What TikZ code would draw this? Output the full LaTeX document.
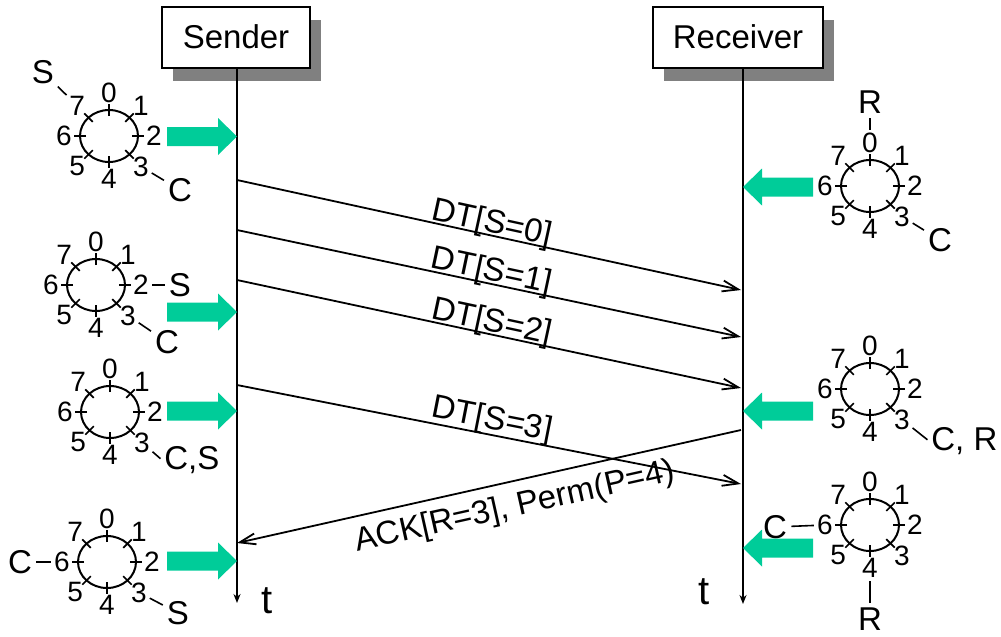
\documentclass[tikz,border=0pt]{standalone}
\usepackage{fontspec}
\setmainfont{Liberation Sans}
\usetikzlibrary{arrows.meta,positioning,shadows}
\definecolor{flowgreen}{RGB}{0,204,153}

\begin{document}
\begin{tikzpicture}[
  x=0.5pt, y=-0.5pt,
  actor/.style={draw, line width=1pt, fill=white, inner sep=0pt,
                minimum height=30.5pt, font=\fontsize{16.5}{20}\selectfont,
                drop shadow={shadow xshift=5.5pt, shadow yshift=-6.5pt,
                             fill=black!50, opacity=1}},
  life/.style={line width=1pt, -{Stealth[length=4.5pt, width=3.5pt]}},
  msg/.style={line width=0.9pt, -{Straight Barb[length=8pt, width=5.5pt]}},
  lbl/.style={font=\fontsize{16.5}{19}\selectfont, inner sep=1pt},
  digit/.style={font=\fontsize{14}{16}\selectfont, inner sep=0.5pt},
  tlbl/.style={font=\fontsize{20}{24}\selectfont, inner sep=0pt},
  ptr/.style={line width=0.8pt, shorten <=1pt, shorten >=1pt},
  ring/.pic={
    \draw[line width=1pt] (0,0) ellipse[x radius=29, y radius=26];
    \foreach \k in {0,...,7}{
      \pgfmathsetmacro\ang{45*\k-90}
      \draw[line width=0.8pt] ({23*cos(\ang)},{20*sin(\ang)})
        -- ({35*cos(\ang)},{32*sin(\ang)});
      \node[digit] (-\k) at ({45*cos(\ang)},{43*sin(\ang)}) {\k};
    }
  },
  fat/.pic={
    \fill[flowgreen] (0,0) -- (-19,-18.5) -- (-19,-9.5) -- (-70,-9.5)
      -- (-70,9.5) -- (-19,9.5) -- (-19,18.5) -- cycle;
  },
]
\useasboundingbox (0,0) rectangle (1001,637);

% the two parties
\node[actor, minimum width=74pt] (sender)   at (236,37) {Sender};
\node[actor, minimum width=85pt] (receiver) at (738,37) {Receiver};
\coordinate (sbot) at (237,603);
\coordinate (rbot) at (743,604);
\draw[life] (sbot |- sender.south) -- (sbot);
\draw[life] (rbot |- receiver.south) -- (rbot);
\node[tlbl] (tS) at (267,601) {t};
\node[tlbl] (tR) at (704,592) {t};

% messages
\coordinate (s0) at (237,180);  \coordinate (r0) at (741,290);
\coordinate (s1) at (237,230);  \coordinate (r1) at (741,337);
\coordinate (s2) at (237,280);  \coordinate (r2) at (741,388);
\coordinate (s3) at (237,385);  \coordinate (r3) at (741,484);
\coordinate (ra) at (741,430);  \coordinate (sa) at (237,543);
\draw[msg] (s0) -- node[lbl, sloped, anchor=base, yshift=1.5pt] (dt0) {DT[S=0]} (r0);
\draw[msg] (s1) -- node[lbl, sloped, anchor=base, yshift=1.5pt] (dt1) {DT[S=1]} (r1);
\draw[msg] (s2) -- node[lbl, sloped, anchor=base, yshift=1.5pt] (dt2) {DT[S=2]} (r2);
\draw[msg] (s3) -- node[lbl, sloped, anchor=base, yshift=3pt] (dt3) {DT[S=3]} (r3);
\draw[msg] (ra) -- node[lbl, sloped, below=4pt, pos=0.46] (ack) {ACK[R=3], Perm(P=4)} (sa);

% window snapshots, sender side
\pic (rA) at (109,136) {ring};
\pic (rB) at (96,285)  {ring};
\pic (rC) at (110,412) {ring};
\pic (rD) at (107,562) {ring};
\node[lbl] (sA) at (43,72)   {S};
\node[lbl] (cA) at (180,190) {C};
\draw[ptr] (rA-7) -- (sA);
\draw[ptr] (rA-3) -- (cA);
\node[lbl] (sB) at (180,285) {S};
\node[lbl] (cB) at (167,342) {C};
\draw[ptr] (rB-2) -- (sB);
\draw[ptr] (rB-3) -- (cB);
\node[lbl, anchor=west] (csC) at (162,460) {C,S};
\draw[ptr] (rC-3) -- (csC.west);
\node[lbl] (cD) at (20,562)  {C};
\node[lbl] (sD) at (178,613) {S};
\draw[ptr] (rD-6) -- (cD);
\draw[ptr] (rD-3) -- (sD);

% window snapshots, receiver side
\pic (rE) at (870,186) {ring};
\pic (rF) at (870,389) {ring};
\pic (rG) at (870,525) {ring};
\node[lbl] (rtE) at (870,102) {R};
\node[lbl] (cE)  at (940,240) {C};
\draw[ptr] (rE-0) -- (rtE);
\draw[ptr] (rE-3) -- (cE);
\node[lbl, anchor=west] (crF) at (929,441) {C, R};
\draw[ptr] (rF-3) -- (crF.west);
\node[lbl] (cG)  at (775,527) {C};
\node[lbl] (rtG) at (870,619) {R};
\draw[ptr] (rG-6) -- (cG);
\draw[ptr] (rG-4) -- (rtG);

% block arrows
\pic at (237,136.5) {fat};
\pic at (237,312)   {fat};
\pic at (237,411)   {fat};
\pic at (237,561)   {fat};
\pic[xscale=-1] at (743,187) {fat};
\pic[xscale=-1] at (743,411) {fat};
\pic[xscale=-1] at (743,548) {fat};
\end{tikzpicture}
\end{document}
